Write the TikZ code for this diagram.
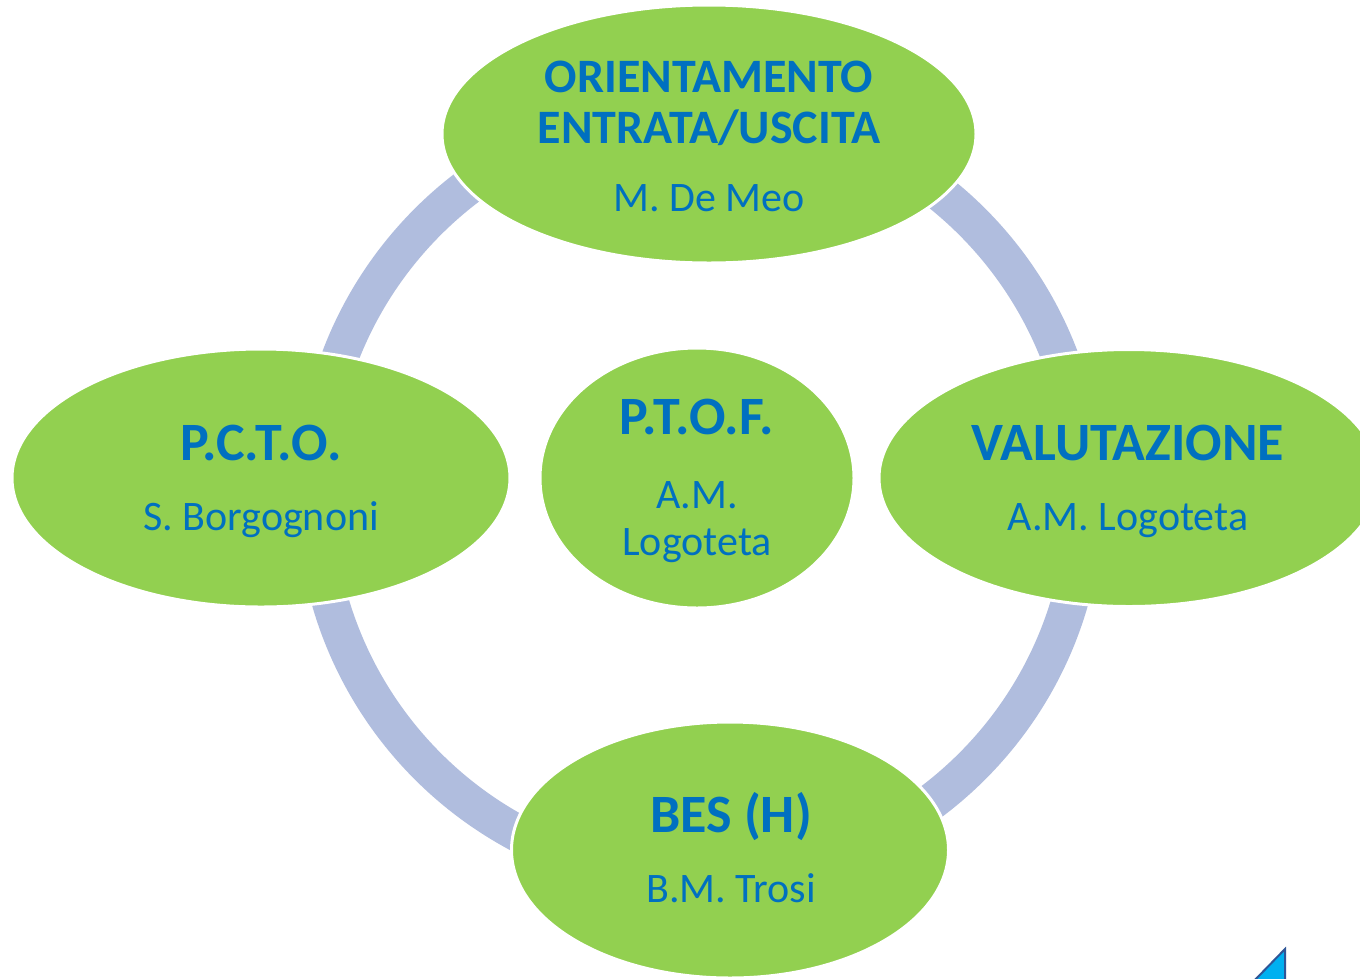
\documentclass[tikz,border=0pt]{standalone}
\usepackage{fontspec}
\setmainfont{Carlito}
\usetikzlibrary{shapes.geometric}
\definecolor{egreen}{RGB}{146,208,80}
\definecolor{tblue}{RGB}{0,112,192}
\definecolor{ringc}{RGB}{176,189,222}
\definecolor{trifill}{RGB}{0,176,240}
\definecolor{triline}{RGB}{47,85,151}
\tikzset{
  oval/.style={ellipse, fill=egreen, draw=white, line width=3pt, inner sep=0pt},
  ttl/.style={text=tblue, anchor=base, inner sep=0pt, font=\bfseries\fontsize{48}{50}\selectfont},
  bigttl/.style={text=tblue, anchor=base, inner sep=0pt, font=\bfseries\fontsize{54}{56}\selectfont},
  nm/.style={text=tblue, anchor=base, inner sep=0pt, font=\fontsize{42}{50}\selectfont},
  ring/.style={draw=ringc, line width=37pt}
}
\begin{document}
\begin{tikzpicture}[x=1pt,y=-1pt]
\useasboundingbox (0,0) rectangle (1360,978);
\clip (0,0) rectangle (1360,978);
\fill[white] (0,0) rectangle (1360,978);
% ring
\coordinate (rc) at (700,494);
\draw[ring] (rc) circle[radius=385pt];
% ellipses
\node[oval, minimum width=534pt, minimum height=258pt] (top) at (709,134) {};
\node[oval, minimum width=498pt, minimum height=258pt] (left) at (261,478) {};
\node[oval, minimum width=500pt, minimum height=257pt] (right) at (1129,478) {};
\node[oval, minimum width=437pt, minimum height=256pt] (bottom) at (730,850) {};
\node[oval, minimum width=314pt, minimum height=260pt] (center) at (697,478) {};
% texts
\node[ttl] (t1) at (709,92) {ORIENTAMENTO};
\node[ttl] (t2) at (709,143) {ENTRATA/USCITA};
\node[nm] (t3) at (709,211) {M. De Meo};
\node[bigttl] (l1) at (261,460) {P.C.T.O.};
\node[nm] (l2) at (261,530) {S. Borgognoni};
\node[bigttl] (r1) at (1128,460) {VALUTAZIONE};
\node[nm] (r2) at (1128,530) {A.M. Logoteta};
\node[bigttl] (b1) at (731,832) {BES (H)};
\node[nm] (b2) at (731,902) {B.M. Trosi};
\node[bigttl] (c1) at (697,434) {P.T.O.F.};
\node[nm] (c2) at (697,508) {A.M.};
\node[nm] (c3) at (697,555) {Logoteta};
% corner triangle
\draw[fill=trifill, draw=triline, line width=2pt, line join=miter] (1285,949) -- (1285,985) -- (1250,985) -- cycle;
\end{tikzpicture}
\end{document}
